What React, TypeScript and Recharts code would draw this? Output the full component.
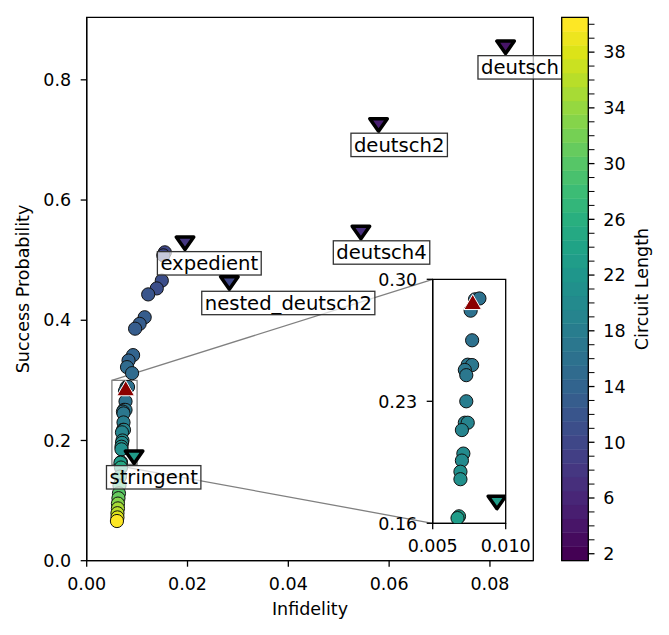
import React from 'react';
import {
  ScatterChart,
  ComposedChart,
  Scatter,
  XAxis,
  YAxis,
  ReferenceArea,
  ReferenceLine,
  Label
} from 'recharts';

const FONT = '"DejaVu Sans", sans-serif';
const TICK_FS = 17.5;
const NOTE_FS = 19.6;

// circuits: infidelity, success probability, circuit length
const infidelity = [
  0.0155, 0.0152, 0.0149, 0.0139, 0.0122, 0.0115, 0.0105, 0.0096, 0.0092, 0.0083, 0.008, 0.009,
  0.0079, 0.0082, 0.0076, 0.0077, 0.0074, 0.0077, 0.0072, 0.0073, 0.0073, 0.0072, 0.0074, 0.007,
  0.0071, 0.007, 0.0069, 0.0069, 0.0068, 0.0067,
  0.0068, 0.0066, 0.0065, 0.0064, 0.0063, 0.0062, 0.0062, 0.0061, 0.0061, 0.006
];
const successProb = [
  0.513, 0.508, 0.466, 0.453, 0.443, 0.405, 0.394, 0.386, 0.342, 0.333, 0.322, 0.312,
  0.2885, 0.289, 0.282, 0.265, 0.251, 0.2508, 0.248, 0.245, 0.23, 0.2177, 0.2177, 0.2135,
  0.2, 0.196, 0.1896, 0.1853, 0.164, 0.163,
  0.155, 0.14, 0.125, 0.112, 0.104, 0.095, 0.087, 0.079, 0.072, 0.066
];
const circuitLength = [
  10, 10, 11, 11, 12, 13, 13, 13, 14, 14, 15, 15,
  16, 16, 16, 16, 17, 17, 17, 17, 18, 19, 19, 19,
  20, 20, 21, 21, 23, 23,
  25, 27, 28, 30, 31, 33, 35, 36, 38, 40
];

// named benchmarks
const benchNames = ['deutsch', 'deutsch2', 'deutsch4', 'expedient', 'nested_deutsch2', 'stringent'];
const benchInfidelity = [0.0831, 0.0579, 0.0544, 0.0195, 0.0283, 0.0094];
const benchSuccess = [0.854, 0.725, 0.546, 0.528, 0.462, 0.172];
const benchLength = [4, 5, 7, 8, 10, 23];

// reference circuit (red marker)
const refInfidelity = [0.00774];
const refSuccess = [0.287];

const xTicks = [0, 0.02, 0.04, 0.06, 0.08];
const yTicks = [0, 0.2, 0.4, 0.6, 0.8];
const insetXTicks = [0.005, 0.01];
const insetYTicks = [0.16, 0.23, 0.3];
const lengthLabels = [2, 6, 10, 14, 18, 22, 26, 30, 34, 38];

const X_DOMAIN: [number, number] = [0, 0.0886];
const Y_DOMAIN: [number, number] = [0, 0.904];
const ZOOM_X: [number, number] = [0.005, 0.01];
const ZOOM_Y: [number, number] = [0.16, 0.3];
const LEN_DOMAIN: [number, number] = [1.5, 40.5];

// layout (pixels)
const MAIN = { left: 86.7, top: 17.3, right: 533.3, bottom: 560.7 };
const INSET_BOX = { left: 360, top: 260, width: 190, height: 300 };
const INSET = { left: 432.7, top: 279.3, right: 505.7, bottom: 523.3 };
const CB_BOX = { left: 540, top: 0, width: 129, height: 635 };
const CB = { left: 561.7, right: 588.3 };

const VIRIDIS = [
  '#440154', '#481568', '#482677', '#453781', '#3f4788', '#39558c', '#32648e', '#2d718e',
  '#287d8e', '#238a8d', '#1f968b', '#20a386', '#29af7f', '#3cbc75', '#56c667', '#75d054',
  '#95d840', '#b8de29', '#dce318', '#fde725'
];

const hex = (c: string) => [1, 3, 5].map(i => parseInt(c.slice(i, i + 2), 16));

const viridis = (t: number) => {
  const v = Math.max(0, Math.min(1, t)) * (VIRIDIS.length - 1);
  const i = Math.min(Math.floor(v), VIRIDIS.length - 2);
  const f = v - i;
  const a = hex(VIRIDIS[i]);
  const b = hex(VIRIDIS[i + 1]);
  const c = a.map((x, k) => Math.round(x + (b[k] - x) * f));
  return `rgb(${c[0]},${c[1]},${c[2]})`;
};

const colorFor = (len: number) => viridis((len - 2) / 38);

const points = infidelity.map((x, i) => ({ x, y: successProb[i], len: circuitLength[i] }));
const benchmarks = benchNames.map((name, i) => ({
  name,
  x: benchInfidelity[i],
  y: benchSuccess[i],
  len: benchLength[i]
}));
const refPoints = refInfidelity.map((x, i) => ({ x, y: refSuccess[i] }));
const lengthTicks = Array.from({ length: 39 }, (_, i) => i + 2);
const bandRows = lengthTicks.map(len => ({ x: 0.5, y: len }));

// inset corners in main data coordinates
const pxToX = (px: number) =>
  X_DOMAIN[0] + ((px - MAIN.left) / (MAIN.right - MAIN.left)) * (X_DOMAIN[1] - X_DOMAIN[0]);
const pxToY = (py: number) =>
  Y_DOMAIN[0] + ((MAIN.bottom - py) / (MAIN.bottom - MAIN.top)) * (Y_DOMAIN[1] - Y_DOMAIN[0]);
const cornerX = pxToX(INSET.left);
const cornerTop = pxToY(INSET.top);
const cornerBottom = pxToY(INSET.bottom);

let ctx: CanvasRenderingContext2D | null = null;
const textWidth = (s: string, fs: number) => {
  if (!ctx) ctx = document.createElement('canvas').getContext('2d');
  if (!ctx) return s.length * fs * 0.6;
  ctx.font = `${fs}px "DejaVu Sans"`;
  return ctx.measureText(s).width;
};

const tickStyle = { fill: '#000', fontSize: TICK_FS, fontFamily: FONT };

function Dot(props: any) {
  const { cx, cy, payload } = props;
  return <circle cx={cx} cy={cy} r={6.6} fill={colorFor(payload.len)} stroke="#111" strokeWidth={1} />;
}

function Nothing() {
  return <g />;
}

function RefMarker(props: any) {
  const { cx, cy } = props;
  const d = `M${cx - 8.8},${cy + 7.6} L${cx + 8.8},${cy + 7.6} L${cx},${cy - 7.6} Z`;
  return <path d={d} fill="#8b0000" stroke="#fff" strokeWidth={1} />;
}

function BenchTriangle(props: any) {
  const { cx, cy, payload } = props;
  const w = 17.5;
  const h = 12.5;
  const d = `M${cx - w / 2},${cy - h / 2} L${cx + w / 2},${cy - h / 2} L${cx},${cy + h / 2} Z`;
  return <path d={d} fill={colorFor(payload.len)} stroke="#000" strokeWidth={3.5} strokeLinejoin="round" />;
}

function BenchMarker(props: any) {
  const { cx, cy, payload } = props;
  const tx = cx - 24.6;
  const tw = textWidth(payload.name, NOTE_FS);
  return (
    <g>
      <BenchTriangle {...props} />
      <rect
        x={tx - 3}
        y={cy + 8.3}
        width={tw + 6}
        height={23.4}
        fill="#fff"
        fillOpacity={0.7}
        stroke="#333"
        strokeWidth={1.3}
      />
      <text x={tx} y={cy + 26.7} fontSize={NOTE_FS} fontFamily={FONT} fill="#000">
        {payload.name}
      </text>
    </g>
  );
}

function LengthTick(props: any) {
  const { x, y, payload } = props;
  const v = payload.value;
  const labelled = lengthLabels.includes(v);
  return (
    <g>
      <line x1={x} x2={x + 6.2} y1={y} y2={y} stroke="#000" strokeWidth={labelled ? 1.3 : 1} />
      {labelled && (
        <text x={x + 15} y={y + TICK_FS * 0.36} fontSize={TICK_FS} fontFamily={FONT} fill="#000">
          {v}
        </text>
      )}
    </g>
  );
}

function MainChart() {
  return (
    <ScatterChart
      width={669}
      height={635}
      margin={{ top: MAIN.top, right: 669 - MAIN.right, bottom: 0, left: 0 }}
    >
      <XAxis
        type="number"
        dataKey="x"
        domain={X_DOMAIN}
        ticks={xTicks}
        interval={0}
        tickFormatter={(v: number) => v.toFixed(2)}
        height={635 - MAIN.bottom}
        tickSize={6}
        tickMargin={10.6}
        tick={tickStyle}
        stroke="#000"
        strokeWidth={1.3}
      >
        <Label
          content={(p: any) => (
            <text
              x={p.viewBox.x + p.viewBox.width / 2}
              y={614.5}
              textAnchor="middle"
              fontSize={TICK_FS}
              fontFamily={FONT}
              fill="#000"
            >
              Infidelity
            </text>
          )}
        />
      </XAxis>
      <YAxis
        type="number"
        dataKey="y"
        domain={Y_DOMAIN}
        ticks={yTicks}
        interval={0}
        tickFormatter={(v: number) => v.toFixed(1)}
        width={MAIN.left}
        tickSize={6}
        tickMargin={9.5}
        tick={tickStyle}
        stroke="#000"
        strokeWidth={1.3}
      >
        <Label
          content={(p: any) => {
            const cy = p.viewBox.y + p.viewBox.height / 2;
            return (
              <text
                x={28.5}
                y={cy}
                transform={`rotate(-90 28.5 ${cy})`}
                textAnchor="middle"
                fontSize={TICK_FS}
                fontFamily={FONT}
                fill="#000"
              >
                Success Probability
              </text>
            );
          }}
        />
      </YAxis>
      <ReferenceArea
        x1={X_DOMAIN[0]}
        x2={X_DOMAIN[1]}
        y1={Y_DOMAIN[0]}
        y2={Y_DOMAIN[1]}
        fill="none"
        fillOpacity={0}
        stroke="#000"
        strokeWidth={1.3}
      />
      <Scatter data={points} shape={Dot} isAnimationActive={false} />
      <ReferenceArea
        x1={ZOOM_X[0]}
        x2={ZOOM_X[1]}
        y1={ZOOM_Y[0]}
        y2={ZOOM_Y[1]}
        fill="none"
        fillOpacity={0}
        stroke="#808080"
        strokeWidth={1.3}
      />
      <ReferenceLine
        segment={[{ x: ZOOM_X[0], y: ZOOM_Y[1] }, { x: cornerX, y: cornerTop }]}
        stroke="#808080"
        strokeWidth={1.3}
        ifOverflow="visible"
      />
      <ReferenceLine
        segment={[{ x: ZOOM_X[0], y: ZOOM_Y[0] }, { x: cornerX, y: cornerBottom }]}
        stroke="#808080"
        strokeWidth={1.3}
        ifOverflow="visible"
      />
      <Scatter data={refPoints} shape={RefMarker} isAnimationActive={false} />
      <Scatter data={benchmarks} shape={BenchMarker} isAnimationActive={false} />
    </ScatterChart>
  );
}

function InsetChart() {
  const w = INSET.right - INSET.left;
  const h = INSET.bottom - INSET.top;
  const left = INSET.left - INSET_BOX.left;
  const top = INSET.top - INSET_BOX.top;
  return (
    <div style={{ position: 'absolute', left: INSET_BOX.left, top: INSET_BOX.top }}>
      <div style={{ position: 'absolute', left, top, width: w, height: h, background: '#fff' }} />
      <ScatterChart
        width={INSET_BOX.width}
        height={INSET_BOX.height}
        margin={{ top, right: INSET_BOX.width - left - w, bottom: 0, left: 0 }}
      >
        <XAxis
          type="number"
          dataKey="x"
          domain={ZOOM_X}
          allowDataOverflow
          ticks={insetXTicks}
          interval={0}
          tickFormatter={(v: number) => v.toFixed(3)}
          height={INSET_BOX.height - top - h}
          tickSize={6}
          tickMargin={10.6}
          tick={tickStyle}
          stroke="#000"
          strokeWidth={1.3}
        />
        <YAxis
          type="number"
          dataKey="y"
          domain={ZOOM_Y}
          allowDataOverflow
          ticks={insetYTicks}
          interval={0}
          tickFormatter={(v: number) => v.toFixed(2)}
          width={left}
          tickSize={6}
          tickMargin={9.5}
          tick={tickStyle}
          stroke="#000"
          strokeWidth={1.3}
        />
        <Scatter data={points} shape={Dot} isAnimationActive={false} />
        <Scatter data={refPoints} shape={RefMarker} isAnimationActive={false} />
        <Scatter data={benchmarks} shape={BenchTriangle} isAnimationActive={false} />
        <ReferenceArea
          x1={ZOOM_X[0]}
          x2={ZOOM_X[1]}
          y1={ZOOM_Y[0]}
          y2={ZOOM_Y[1]}
          fill="none"
          fillOpacity={0}
          stroke="#000"
          strokeWidth={1.3}
        />
      </ScatterChart>
    </div>
  );
}

function ColorBar() {
  return (
    <div style={{ position: 'absolute', left: CB_BOX.left, top: CB_BOX.top }}>
      <ComposedChart
        width={CB_BOX.width}
        height={CB_BOX.height}
        margin={{ top: MAIN.top, right: 0, bottom: CB_BOX.height - MAIN.bottom, left: CB.left - CB_BOX.left }}
      >
        <XAxis type="number" dataKey="x" domain={[0, 1]} hide />
        <YAxis
          orientation="right"
          type="number"
          dataKey="y"
          domain={LEN_DOMAIN}
          ticks={lengthTicks}
          interval={0}
          width={CB_BOX.width - (CB.right - CB_BOX.left)}
          tickSize={0}
          tickMargin={0}
          tickLine={false}
          axisLine={false}
          tick={LengthTick}
        >
          <Label
            content={(p: any) => {
              const cx = p.viewBox.x + 60;
              const cy = p.viewBox.y + p.viewBox.height / 2;
              return (
                <text
                  x={cx}
                  y={cy}
                  transform={`rotate(-90 ${cx} ${cy})`}
                  textAnchor="middle"
                  fontSize={TICK_FS}
                  fontFamily={FONT}
                  fill="#000"
                >
                  Circuit Length
                </text>
              );
            }}
          />
        </YAxis>
        {lengthTicks.map(len => (
          <ReferenceArea
            key={len}
            x1={0}
            x2={1}
            y1={len - 0.5}
            y2={len + 0.5}
            fill={colorFor(len)}
            fillOpacity={1}
            stroke={colorFor(len)}
            strokeWidth={0.5}
          />
        ))}
        <ReferenceArea
          x1={0}
          x2={1}
          y1={LEN_DOMAIN[0]}
          y2={LEN_DOMAIN[1]}
          fill="none"
          fillOpacity={0}
          stroke="#000"
          strokeWidth={1.3}
        />
        <Scatter data={bandRows} shape={Nothing} isAnimationActive={false} />
      </ComposedChart>
    </div>
  );
}

export default function App() {
  return (
    <div style={{ position: 'absolute', left: 0, top: 0, width: 669, height: 635, background: '#fff' }}>
      <div style={{ position: 'absolute', left: 0, top: 0 }}>
        <MainChart />
      </div>
      <InsetChart />
      <ColorBar />
    </div>
  );
}
